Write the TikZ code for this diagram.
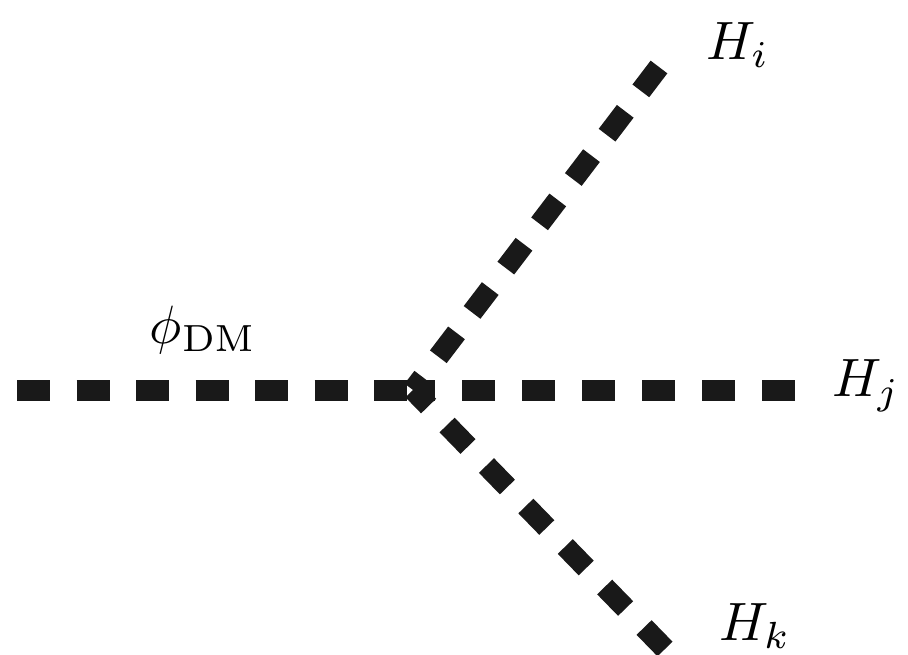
\documentclass[tikz,border=0pt]{standalone}
\begin{document}
\begin{tikzpicture}[x=1pt,y=-1pt,
  scalar/.style={line width=21pt, draw=black!90},
  lbl/.style={inner sep=0pt, scale=5.4}]
\useasboundingbox (0,0) rectangle (908,654);
\coordinate (v) at (413,390);
\coordinate (a) at (17,390);
\coordinate (bi) at (659,67);
\coordinate (bj) at (795,390);
\coordinate (bk) at (665,649);
\draw[scalar, dash pattern=on 33pt off 26.5pt] (a) -- (v);
\draw[scalar, dash pattern=on 33pt off 27pt] (bj) -- (v);
\draw[scalar, dash pattern=on 30pt off 25.7pt] (bi) -- (v);
\draw[scalar, dash pattern=on 30pt off 26.5pt] (bk) -- (v);
\node[lbl] (phi) at (203,330) {$\phi_{\mathrm{DM}}$};
\node[lbl] (Hi) at (738,45) {$H_i$};
\node[lbl] (Hj) at (866,386) {$H_j$};
\node[lbl] (Hk) at (755,626) {$H_k$};
\end{tikzpicture}
\end{document}
